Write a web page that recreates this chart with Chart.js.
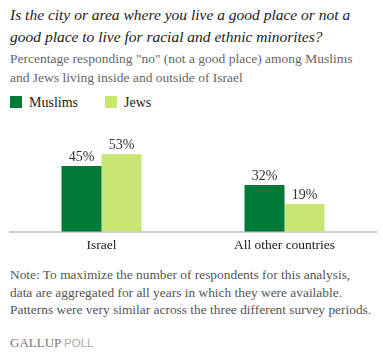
<!DOCTYPE html>
<html>
<head>
<meta charset="utf-8">
<script src="https://cdn.jsdelivr.net/npm/chart.js@4"></script>
<style>
  html, body { margin: 0; padding: 0; background: #fff; }
  body { width: 383px; height: 354px; position: relative; overflow: hidden; font-family: "Liberation Serif", serif; }
  .txt { position: absolute; left: 10px; white-space: nowrap; }
  #title { top: 4px; font-size: 15.5px; line-height: 22px; font-style: italic; color: #222; }
  #sub { top: 49px; font-size: 13.5px; line-height: 19px; color: #666; }
  #legend { top: 95px; font-size: 14px; line-height: 16px; color: #222; }
  #legend span.box { display: inline-block; width: 12px; height: 12px; vertical-align: -1px; margin-right: 7px; }
  #note { top: 266px; font-size: 13.4px; line-height: 17.5px; color: #555; }
  #brand { top: 335px; font-size: 13px; line-height: 16px; color: #777; }
  #brand .poll { font-family: "Liberation Sans", sans-serif; color: #aaa; font-size: 11.5px; }
  #wrap { position: absolute; left: 0; top: 120px; width: 383px; height: 140px; }
</style>
</head>
<body>
<div id="title" class="txt">Is the city or area where you live a good place or not a<br>good place to live for racial and ethnic minorites?</div>
<div id="sub" class="txt">Percentage responding "no" (not a good place) among Muslims<br>and Jews living inside and outside of Israel</div>
<div id="legend" class="txt"></div>
<div id="wrap"><canvas id="chart"></canvas></div>
<div id="note" class="txt">Note: To maximize the number of respondents for this analysis,<br>data are aggregated for all years in which they were available.<br>Patterns were very similar across the three different survey periods.</div>
<div id="brand" class="txt">GALLUP <span class="poll">POLL</span></div>
<script>
// ── 데이터 ──
var categories = ["Israel", "All other countries"];
var seriesNames = ["Muslims", "Jews"];
var muslims = [45, 32];
var jews = [53, 19];
var colors = ["#007a37", "#c8e673"];

// 범례
document.getElementById("legend").innerHTML = seriesNames.map(function(n, i) {
  return "<span style=\"display:inline-block;width:" + (i === 0 ? 95 : 80) + "px\">" +
    "<span class=\"box\" style=\"background:" + colors[i] + "\"></span>" + n + "</span>";
}).join("");

// 막대 위 값 라벨
var valueLabels = {
  id: "valueLabels",
  afterDatasetsDraw: function(chart) {
    var ctx = chart.ctx;
    ctx.save();
    ctx.font = "14px 'Liberation Serif', serif";
    ctx.fillStyle = "#333";
    ctx.textAlign = "center";
    ctx.textBaseline = "bottom";
    chart.data.datasets.forEach(function(ds, di) {
      chart.getDatasetMeta(di).data.forEach(function(bar, i) {
        ctx.fillText(ds.data[i] + "%", bar.x, bar.y - 2);
      });
    });
    ctx.restore();
  }
};

new Chart(document.getElementById("chart").getContext("2d"), {
  type: "bar",
  data: {
    labels: categories,
    datasets: [
      { label: seriesNames[0], data: muslims, backgroundColor: colors[0] },
      { label: seriesNames[1], data: jews, backgroundColor: colors[1] }
    ]
  },
  options: {
    responsive: true, maintainAspectRatio: false, animation: false,
    layout: { padding: { left: 10, right: 7, top: 24, bottom: 0 } },
    categoryPercentage: 0.437, barPercentage: 1,
    plugins: { legend: { display: false }, tooltip: { enabled: false } },
    scales: {
      x: {
        grid: { display: false, drawTicks: false },
        border: { display: true, color: "#cfcfcf", width: 2 },
        ticks: { color: "#222", font: { family: "'Liberation Serif', serif", size: 13.5 }, padding: 6 }
      },
      y: { display: false, min: 0, max: 60 }
    }
  },
  plugins: [valueLabels]
});
</script>
</body>
</html>
